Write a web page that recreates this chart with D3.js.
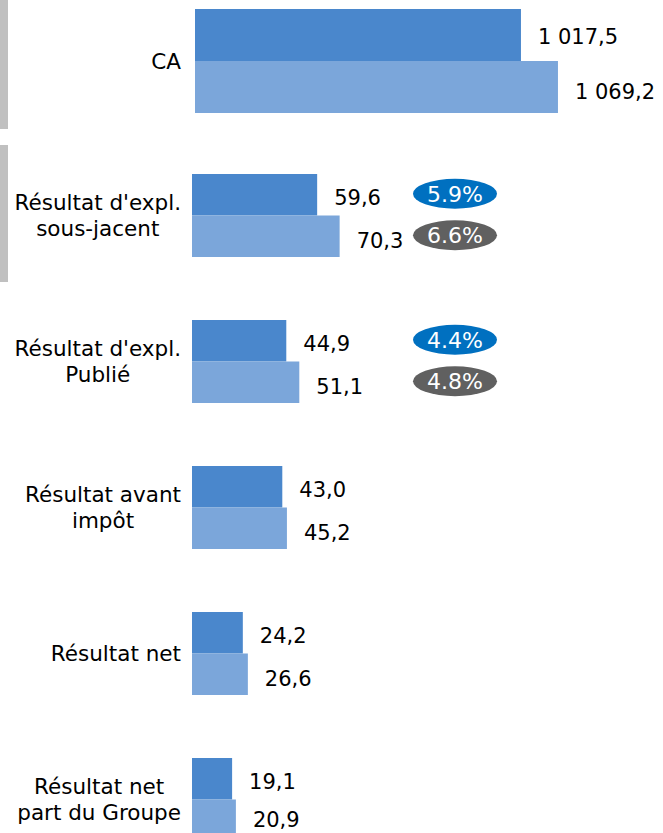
<!DOCTYPE html>
<html lang="fr">
<head>
<meta charset="UTF-8">
<title>Chiffres clés</title>
<script src="https://d3js.org/d3.v7.min.js"></script>
<style>
  html, body { margin: 0; padding: 0; background: #fff; }
  svg { display: block; font-family: "DejaVu Sans", Verdana, sans-serif; }
</style>
</head>
<body>
<div id="chart"></div>
<script>
// data
var series = ["N-1", "N"];
var caLabel = ["CA"];
var caValues = [1017.5, 1069.2];
var caText = ["1 017,5", "1 069,2"];

var categories = [
  ["Résultat d'expl.", "sous-jacent"],
  ["Résultat d'expl.", "Publié"],
  ["Résultat avant", "impôt"],
  ["Résultat net"],
  ["Résultat net", "part du Groupe"]
];
var valuesN1 = [59.6, 44.9, 43.0, 24.2, 19.1];
var valuesN = [70.3, 51.1, 45.2, 26.6, 20.9];
var marginsN1 = ["5.9%", "4.4%", null, null, null];
var marginsN = ["6.6%", "4.8%", null, null, null];

var colors = ["#4a87cc", "#7ba6da"];
var badgeColors = ["#0070c0", "#606060"];

var width = 663, height = 833;
var labelRight = 181;

var svg = d3.select("#chart").append("svg")
  .attr("width", width)
  .attr("height", height);

function fmt(v) {
  return d3.format(".1f")(v).replace(".", ",");
}

// ---- top panel : CA (own scale, axis not starting at 0)
var xCA = d3.scaleLinear().domain([562, 1100]).range([195, 580]);
var yCA = d3.scaleBand().domain(series).range([9, 113]);

// ---- lower panel
var catKeys = categories.map(function(d, i) { return "c" + i; });
var step = 146, inner = 63 / 146;
var yCat = d3.scaleBand().domain(catKeys)
  .range([174, 174 + step * (catKeys.length - inner)])
  .paddingInner(inner).paddingOuter(0);
var ySer = d3.scaleBand().domain(series).range([0, yCat.bandwidth()]);
var xLow = d3.scaleLinear().domain([0, 100]).range([192, 402]);

// grey side markers
svg.append("rect").attr("x", 0).attr("y", 0).attr("width", 8)
  .attr("height", yCA.range()[1] + 16).attr("fill", "#c0c0c0");
svg.append("rect").attr("x", 0).attr("y", yCat("c0") - 29).attr("width", 8)
  .attr("height", yCat.bandwidth() + 54).attr("fill", "#c0c0c0");

// CA bars
var caG = svg.append("g");
caG.selectAll("rect").data(caValues).join("rect")
  .attr("x", xCA(562))
  .attr("y", function(d, i) { return yCA(series[i]); })
  .attr("width", function(d) { return xCA(d) - xCA(562); })
  .attr("height", yCA.bandwidth())
  .attr("fill", function(d, i) { return colors[i]; });

caG.selectAll("text.val").data(caValues).join("text")
  .attr("class", "val")
  .attr("x", function(d) { return xCA(d) + 17; })
  .attr("y", function(d, i) { return yCA(series[i]) + yCA.bandwidth() / 2 + (i === 0 ? 2 : 5); })
  .attr("dy", "0.35em")
  .attr("font-size", 21)
  .attr("fill", "#000")
  .text(function(d, i) { return caText[i]; });

function catLabel(lines, cy) {
  var t = svg.append("text")
    .attr("font-size", 21.5)
    .attr("fill", "#000")
    .attr("text-anchor", "middle");
  lines.forEach(function(l, j) {
    t.append("tspan")
      .attr("x", 0)
      .attr("y", cy - (lines.length - 1) * 13 + j * 26)
      .attr("dy", "0.35em")
      .text(l);
  });
  var w = t.node().getBBox().width;
  t.attr("transform", "translate(" + (labelRight - w / 2) + ",0)");
}

catLabel(caLabel, (yCA.range()[0] + yCA.range()[1]) / 2);

// lower groups
catKeys.forEach(function(k, i) {
  var g = svg.append("g").attr("transform", "translate(0," + yCat(k) + ")");
  var vals = [valuesN1[i], valuesN[i]];
  var margins = [marginsN1[i], marginsN[i]];

  g.selectAll("rect.bar").data(vals).join("rect")
    .attr("class", "bar")
    .attr("x", xLow(0))
    .attr("y", function(d, j) { return ySer(series[j]); })
    .attr("width", function(d) { return xLow(d) - xLow(0); })
    .attr("height", ySer.bandwidth())
    .attr("fill", function(d, j) { return colors[j]; });

  g.selectAll("text.val").data(vals).join("text")
    .attr("class", "val")
    .attr("x", function(d) { return xLow(d) + 17; })
    .attr("y", function(d, j) {
      var y = ySer(series[j]) + ySer.bandwidth() / 2 + (j === 0 ? 3 : 4);
      // keep the last label inside the picture
      return Math.min(y, height - yCat(k) - 13);
    })
    .attr("dy", "0.35em")
    .attr("font-size", 21)
    .attr("fill", "#000")
    .text(function(d) { return fmt(d); });

  margins.forEach(function(m, j) {
    if (!m) return;
    var cy = ySer(series[j]) + ySer.bandwidth() / 2 - 1;
    g.append("ellipse")
      .attr("cx", 455).attr("cy", cy)
      .attr("rx", 42).attr("ry", 15)
      .attr("fill", badgeColors[j]);
    g.append("text")
      .attr("x", 455).attr("y", cy)
      .attr("dy", "0.36em")
      .attr("text-anchor", "middle")
      .attr("font-size", 22)
      .attr("fill", "#fff")
      .text(m);
  });

  catLabel(categories[i], yCat(k) + yCat.bandwidth() / 2);
});
</script>
</body>
</html>
